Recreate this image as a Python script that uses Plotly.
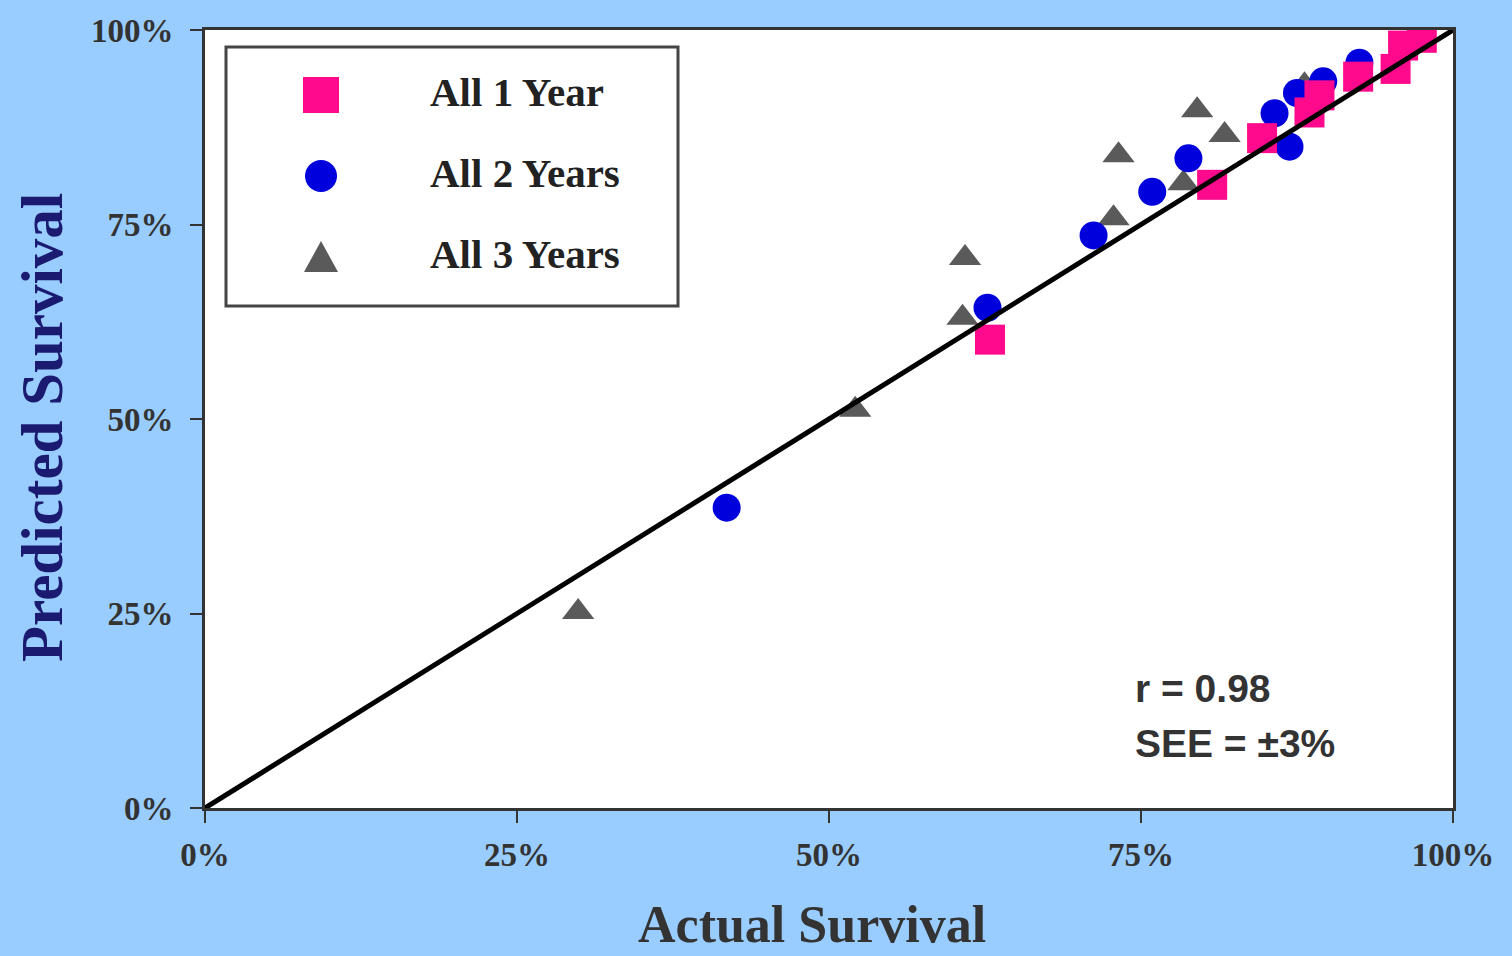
import plotly.graph_objects as go

# ---- data (percent) ----
y1_actual = [62.9, 80.7, 84.7, 88.5, 89.3, 92.4, 95.4, 96.0, 97.5]
y1_pred   = [60.2, 80.1, 86.1, 89.4, 91.6, 94.0, 95.0, 98.0, 99.0]

y2_actual = [41.8, 62.7, 71.2, 75.9, 78.8, 85.7, 86.9, 87.5, 89.6, 92.5]
y2_pred   = [38.6, 64.3, 73.6, 79.2, 83.5, 89.3, 85.0, 91.9, 93.4, 95.8]

y3_actual = [29.9, 52.1, 60.9, 60.7, 73.2, 72.8, 79.5, 78.4, 81.7, 88.1]
y3_pred   = [25.2, 51.2, 70.7, 63.0, 83.9, 75.8, 89.7, 80.3, 86.5, 92.9]

line_x = [0, 100]
line_y = [0, 100]

tick_vals = [0, 25, 50, 75, 100]
tick_text = ["0%", "25%", "50%", "75%", "100%"]

series_names = ["All 1 Year", "All 2 Years", "All 3 Years"]
stats_text = ["r = 0.98", "SEE = ±3%"]

SERIF = "Liberation Serif, Times New Roman, serif"
PINK = "#FF0A8C"
BLUE = "#0000DD"
GRAY = "#5A5A5A"
BG = "#99CCFF"

fig = go.Figure()
fig.add_trace(go.Scatter(x=y3_actual, y=y3_pred, mode="markers", name=series_names[2],
                         marker=dict(symbol="triangle-up", size=28, color=GRAY)))
fig.add_trace(go.Scatter(x=y2_actual, y=y2_pred, mode="markers", name=series_names[1],
                         marker=dict(symbol="circle", size=28, color=BLUE)))
fig.add_trace(go.Scatter(x=y1_actual, y=y1_pred, mode="markers", name=series_names[0],
                         marker=dict(symbol="square", size=30, color=PINK)))
fig.add_trace(go.Scatter(x=line_x, y=line_y, mode="lines", showlegend=False,
                         line=dict(color="black", width=5)))

axis_common = dict(range=[0, 100], tickvals=tick_vals,
                   ticktext=["<b>" + t + "</b>" for t in tick_text],
                   showgrid=False, zeroline=False, showline=True, linecolor="#333333",
                   linewidth=3, mirror=True, ticks="outside", ticklen=12, tickwidth=2,
                   tickcolor="#333333",
                   tickfont=dict(family=SERIF, size=33, color="#333333"))

fig.update_layout(
    width=1512, height=956,
    paper_bgcolor=BG, plot_bgcolor="white",
    margin=dict(l=205, r=59, t=30, b=148),
    showlegend=False,
    xaxis=dict(**axis_common, ticklabelstandoff=3),
    yaxis=dict(**axis_common, ticklabelstandoff=10),
)

# axis titles
fig.add_annotation(text="<b>Predicted Survival</b>", xref="paper", yref="paper",
                   x=(42 - 205) / 1248, y=(808 - 428) / 778, textangle=-90, showarrow=False,
                   xanchor="center", yanchor="middle",
                   font=dict(family=SERIF, size=59, color="#1A1A70"))
fig.add_annotation(text="<b>Actual Survival</b>", xref="paper", yref="paper",
                   x=(812 - 205) / 1248, y=-147 / 778, showarrow=False, xanchor="center", yanchor="bottom",
                   font=dict(family=SERIF, size=52, color="#333333"))

# stats text
for i, t in enumerate(stats_text):
    fig.add_annotation(text="<b>" + t + "</b>", xref="paper", yref="paper",
                       x=(1133 - 205) / 1248, y=(808 - (688 + 55 * i)) / 778,
                       showarrow=False, xanchor="left", yanchor="middle",
                       font=dict(family="Liberation Sans, Arial, sans-serif", size=39, color="#333333"))

# manual legend
def px_x(p):
    return (p - 205) / 1248

def px_y(p):
    return (808 - p) / 778

fig.add_shape(type="rect", xref="paper", yref="paper",
              x0=px_x(226), x1=px_x(678), y0=px_y(306), y1=px_y(47),
              line=dict(color="#444444", width=3), fillcolor="white")
rows = [95, 176, 257]
mx = 321
fig.add_shape(type="rect", xref="paper", yref="paper",
              x0=px_x(mx - 18), x1=px_x(mx + 18), y0=px_y(rows[0] + 18), y1=px_y(rows[0] - 18),
              line=dict(width=0), fillcolor=PINK)
fig.add_shape(type="circle", xref="paper", yref="paper",
              x0=px_x(mx - 16), x1=px_x(mx + 16), y0=px_y(rows[1] + 16), y1=px_y(rows[1] - 16),
              line=dict(width=0), fillcolor=BLUE)
fig.add_shape(type="path", xref="paper", yref="paper",
              path="M {} {} L {} {} L {} {} Z".format(px_x(mx - 17), px_y(rows[2] + 15),
                                                      px_x(mx + 17), px_y(rows[2] + 15),
                                                      px_x(mx), px_y(rows[2] - 16)),
              line=dict(width=0), fillcolor=GRAY)
for r, name in zip(rows, series_names):
    fig.add_annotation(text="<b>" + name + "</b>", xref="paper", yref="paper",
                       x=px_x(428), y=px_y(r - 3), showarrow=False, xanchor="left", yanchor="middle",
                       font=dict(family=SERIF, size=41, color="#222222"))

fig.write_html("out.html")
